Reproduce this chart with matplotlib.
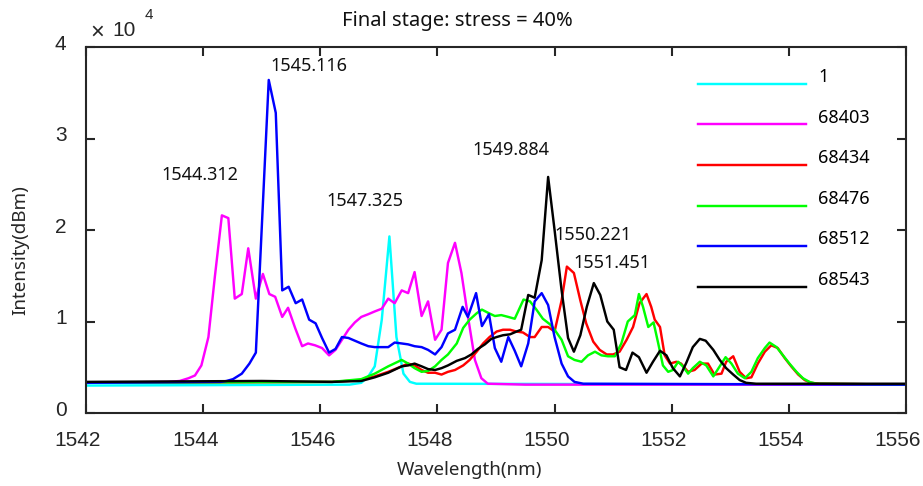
import matplotlib
matplotlib.use('Agg')
import matplotlib.pyplot as plt
from matplotlib.legend_handler import HandlerLine2D
from matplotlib.transforms import ScaledTranslation

# spectra, intensity in units of 1e4
x_1 = [1542.0, 1546.5, 1546.70, 1546.82, 1546.93, 1547.05, 1547.18, 1547.30, 1547.42, 1547.53, 1547.64, 1556.0]
y_1 = [0.30, 0.31, 0.33, 0.40, 0.51, 1.02, 1.93, 0.83, 0.43, 0.34, 0.32, 0.31]

x_68403 = [1542.0, 1543.4, 1543.60, 1543.75, 1543.86, 1543.97, 1544.09, 1544.20, 1544.32, 1544.43,
           1544.54, 1544.66, 1544.77, 1544.90, 1545.02, 1545.13, 1545.23, 1545.35, 1545.45, 1545.57,
           1545.69, 1545.79, 1545.91, 1546.03, 1546.15, 1546.26, 1546.37, 1546.48, 1546.59, 1546.70,
           1546.82, 1546.93, 1547.05, 1547.16, 1547.27, 1547.39, 1547.50, 1547.61, 1547.73, 1547.84,
           1547.96, 1548.07, 1548.18, 1548.30, 1548.41, 1548.52, 1548.64, 1548.75, 1548.86, 1549.5, 1556.0]
y_68403 = [0.33, 0.34, 0.35, 0.38, 0.41, 0.52, 0.83, 1.49, 2.16, 2.13,
           1.25, 1.30, 1.80, 1.25, 1.52, 1.30, 1.27, 1.05, 1.15, 0.93,
           0.73, 0.76, 0.74, 0.71, 0.63, 0.69, 0.80, 0.91, 0.99, 1.05,
           1.08, 1.11, 1.14, 1.25, 1.20, 1.34, 1.31, 1.54, 1.06, 1.22,
           0.80, 0.91, 1.64, 1.86, 1.53, 1.06, 0.58, 0.38, 0.32, 0.31, 0.31]

x_68434 = [1542.0, 1546.2, 1546.70, 1546.93, 1547.16, 1547.39, 1547.50, 1547.61, 1547.73, 1547.84,
           1547.96, 1548.07, 1548.18, 1548.30, 1548.44, 1548.55, 1548.67, 1548.78, 1548.89, 1549.01,
           1549.12, 1549.24, 1549.35, 1549.46, 1549.58, 1549.66, 1549.78, 1549.89, 1550.00, 1550.12,
           1550.21, 1550.33, 1550.44, 1550.54, 1550.66, 1550.77, 1550.89, 1551.00, 1551.11, 1551.23,
           1551.34, 1551.45, 1551.57, 1551.65, 1551.71, 1551.80, 1551.88, 1551.97, 1552.08, 1552.16,
           1552.28, 1552.39, 1552.51, 1552.62, 1552.73, 1552.85, 1552.93, 1553.05, 1553.16, 1553.27,
           1553.36, 1553.47, 1553.59, 1553.70, 1553.81, 1553.93, 1554.04, 1554.16, 1554.27, 1554.38,
           1554.53, 1556.0]
y_68434 = [0.33, 0.34, 0.36, 0.40, 0.45, 0.51, 0.54, 0.52, 0.47, 0.44,
           0.44, 0.42, 0.45, 0.47, 0.52, 0.58, 0.67, 0.76, 0.83, 0.89,
           0.91, 0.91, 0.89, 0.88, 0.83, 0.83, 0.94, 0.94, 0.89, 1.23,
           1.60, 1.53, 1.23, 0.98, 0.78, 0.69, 0.64, 0.64, 0.67, 0.80,
           0.94, 1.20, 1.30, 1.16, 1.02, 0.94, 0.63, 0.54, 0.56, 0.54,
           0.45, 0.47, 0.54, 0.54, 0.42, 0.43, 0.56, 0.62, 0.45, 0.38,
           0.39, 0.54, 0.67, 0.74, 0.71, 0.60, 0.51, 0.42, 0.36, 0.33,
           0.32, 0.31]

x_68476 = [1542.0, 1546.2, 1546.70, 1546.93, 1547.16, 1547.39, 1547.50, 1547.61, 1547.73, 1547.84,
           1547.96, 1548.07, 1548.18, 1548.33, 1548.44, 1548.55, 1548.67, 1548.76, 1548.88, 1548.98,
           1549.09, 1549.21, 1549.32, 1549.47, 1549.58, 1549.69, 1549.80, 1549.92, 1550.00, 1550.12,
           1550.23, 1550.34, 1550.46, 1550.57, 1550.69, 1550.80, 1550.91, 1551.03, 1551.14, 1551.25,
           1551.37, 1551.44, 1551.51, 1551.60, 1551.69, 1551.77, 1551.85, 1551.94, 1552.02, 1552.11,
           1552.19, 1552.28, 1552.36, 1552.48, 1552.59, 1552.71, 1552.82, 1552.92, 1553.02, 1553.13,
           1553.25, 1553.36, 1553.47, 1553.59, 1553.67, 1553.79, 1553.90, 1554.01, 1554.13, 1554.24,
           1554.35, 1554.47, 1556.0]
y_68476 = [0.33, 0.34, 0.37, 0.43, 0.51, 0.58, 0.54, 0.49, 0.45, 0.46,
           0.51, 0.58, 0.64, 0.76, 0.93, 1.02, 1.09, 1.13, 1.09, 1.06,
           1.07, 1.05, 1.03, 1.24, 1.22, 1.13, 1.03, 0.97, 0.91, 0.80,
           0.62, 0.58, 0.56, 0.63, 0.67, 0.63, 0.62, 0.62, 0.76, 1.00,
           1.07, 1.30, 1.16, 0.94, 0.99, 0.76, 0.52, 0.45, 0.47, 0.56,
           0.51, 0.43, 0.49, 0.56, 0.52, 0.40, 0.51, 0.61, 0.54, 0.43,
           0.38, 0.45, 0.60, 0.71, 0.77, 0.72, 0.63, 0.54, 0.45, 0.38,
           0.34, 0.32, 0.31]

x_68512 = [1542.0, 1544.3, 1544.40, 1544.51, 1544.66, 1544.79, 1544.90, 1545.12, 1545.24, 1545.35,
           1545.46, 1545.58, 1545.69, 1545.81, 1545.92, 1546.03, 1546.15, 1546.26, 1546.37, 1546.48,
           1546.59, 1546.70, 1546.82, 1546.93, 1547.05, 1547.16, 1547.27, 1547.39, 1547.50, 1547.61,
           1547.73, 1547.84, 1547.96, 1548.07, 1548.18, 1548.30, 1548.43, 1548.52, 1548.66, 1548.76,
           1548.88, 1548.98, 1549.09, 1549.21, 1549.32, 1549.43, 1549.55, 1549.66, 1549.78, 1549.89,
           1550.00, 1550.12, 1550.23, 1550.34, 1550.49, 1556.0]
y_68512 = [0.33, 0.34, 0.35, 0.37, 0.43, 0.54, 0.66, 3.64, 3.28, 1.34,
           1.38, 1.20, 1.24, 1.02, 0.98, 0.82, 0.66, 0.70, 0.83, 0.82,
           0.79, 0.76, 0.73, 0.72, 0.72, 0.72, 0.77, 0.76, 0.75, 0.73,
           0.72, 0.69, 0.64, 0.72, 0.87, 0.91, 1.16, 1.05, 1.31, 0.95,
           1.08, 0.71, 0.56, 0.83, 0.68, 0.51, 0.76, 1.22, 1.31, 1.18,
           0.83, 0.54, 0.40, 0.34, 0.32, 0.31]

x_68543 = [1542.0, 1545.0, 1546.2, 1546.70, 1546.93, 1547.16, 1547.39, 1547.50, 1547.61, 1547.73,
           1547.84, 1547.96, 1548.07, 1548.18, 1548.33, 1548.47, 1548.58, 1548.69, 1548.81, 1548.92,
           1549.01, 1549.12, 1549.24, 1549.35, 1549.43, 1549.55, 1549.66, 1549.78, 1549.89, 1550.00,
           1550.12, 1550.23, 1550.33, 1550.44, 1550.55, 1550.67, 1550.78, 1550.90, 1551.01, 1551.11,
           1551.22, 1551.33, 1551.44, 1551.57, 1551.68, 1551.80, 1551.91, 1552.02, 1552.14, 1552.25,
           1552.36, 1552.48, 1552.58, 1552.71, 1552.82, 1552.93, 1553.05, 1553.16, 1553.27, 1553.44, 1556.0]
y_68543 = [0.34, 0.35, 0.34, 0.35, 0.39, 0.44, 0.51, 0.52, 0.54, 0.51,
           0.48, 0.47, 0.49, 0.52, 0.57, 0.60, 0.64, 0.70, 0.75, 0.81,
           0.83, 0.85, 0.86, 0.89, 0.91, 1.29, 1.26, 1.67, 2.58, 2.00,
           1.34, 0.82, 0.67, 0.85, 1.16, 1.42, 1.29, 1.00, 0.91, 0.50,
           0.47, 0.66, 0.61, 0.44, 0.56, 0.68, 0.63, 0.49, 0.40, 0.55,
           0.72, 0.81, 0.79, 0.69, 0.58, 0.49, 0.42, 0.36, 0.33, 0.32, 0.32]

series_labels = ['1', '68403', '68434', '68476', '68512', '68543']
series_colors = ['#00ffff', '#ff00ff', '#ff0000', '#00ff00', '#0000ff', '#000000']

# peak wavelength labels and where they sit (text left edge, centre)
peak_labels = ['1544.312', '1545.116', '1547.325', '1549.884', '1550.221', '1551.451']
peak_label_x = [1543.29, 1545.14, 1546.10, 1548.59, 1549.99, 1550.33]
peak_label_y = [2.60, 3.79, 2.32, 2.87, 1.95, 1.64]

x_ticks = [1542, 1544, 1546, 1548, 1550, 1552, 1554, 1556]
y_ticks = [0, 1, 2, 3, 4]

W, H = 923, 486
txt_font = 'Noto Sans'
tick_font = 'Liberation Sans'


class LowLine(HandlerLine2D):
    # legend line drawn a bit under the label, like the original
    def create_artists(self, legend, orig_handle, xdescent, ydescent, width, height, fontsize, trans):
        arts = super().create_artists(legend, orig_handle, xdescent, ydescent, width, height, fontsize, trans)
        for a in arts:
            a.set_ydata([v - 0.65 * height for v in a.get_ydata()])
        return arts


fig = plt.figure(figsize=(W / 100, H / 100), dpi=100)
ax = fig.add_axes([86 / W, 1 - 413 / H, 820 / W, 366 / H])

all_x = [x_1, x_68403, x_68434, x_68476, x_68512, x_68543]
all_y = [y_1, y_68403, y_68434, y_68476, y_68512, y_68543]
lines = []
for xs, ys, lab, col in zip(all_x, all_y, series_labels, series_colors):
    ln, = ax.plot(xs, ys, color=col, lw=1.75, label=lab)
    lines.append(ln)

for t, px, py in zip(peak_labels, peak_label_x, peak_label_y):
    ax.text(px, py, t, fontsize=13, family=txt_font, ha='left', va='center', color='#111111')

ax.set_xlim(1542, 1556)
ax.set_ylim(0, 4)
ax.set_xticks(x_ticks)
ax.set_yticks(y_ticks)
ax.tick_params(direction='in', length=6.5, width=1.5, top=True, right=True,
               labelsize=15, colors='#262626', pad=13)
ax.tick_params(axis='y', pad=14)
for lab in ax.get_xticklabels() + ax.get_yticklabels():
    lab.set_family(tick_font)
# the original draws its tick labels slightly off their ticks
for lab in ax.get_xticklabels():
    lab.set_transform(lab.get_transform() + ScaledTranslation(-8 / 100, 0, fig.dpi_scale_trans))
for lab in ax.get_yticklabels():
    lab.set_transform(lab.get_transform() + ScaledTranslation(0, 5 / 100, fig.dpi_scale_trans))
for sp in ax.spines.values():
    sp.set_linewidth(1.5)
    sp.set_color('#262626')

fig.text(470 / W, 1 - 470 / H, 'Wavelength(nm)', fontsize=13.5, family=txt_font,
         ha='center', va='center', color='#262626')
fig.text(20 / W, 1 - 250 / H, 'Intensity(dBm)', fontsize=13.5, family=txt_font,
         ha='center', va='center', rotation=90, color='#262626')
fig.text(457 / W, 1 - 21 / H, 'Final stage: stress = 40%', fontsize=14.5, family=txt_font,
         ha='center', va='center', color='#111111')

# exponent marker of the y axis
fig.text(97 / W, 1 - 33 / H, '\u00d7', fontsize=17, family=tick_font, ha='center', va='center', color='#262626')
fig.text(124 / W, 1 - 30 / H, '10', fontsize=15, family=tick_font, ha='center', va='center', color='#262626')
fig.text(149 / W, 1 - 15 / H, '4', fontsize=11, family=tick_font, ha='center', va='center', color='#262626')

ax.legend(handles=lines, loc='upper left', bbox_to_anchor=(698 / W, 1 - 68 / H),
          bbox_transform=fig.transFigure, frameon=False, borderpad=0, borderaxespad=0,
          handlelength=6.0, handletextpad=0.65, labelspacing=1.25,
          prop={'family': txt_font, 'size': 13},
          handler_map={l: LowLine() for l in lines})

fig.savefig('out.png', dpi=100)
